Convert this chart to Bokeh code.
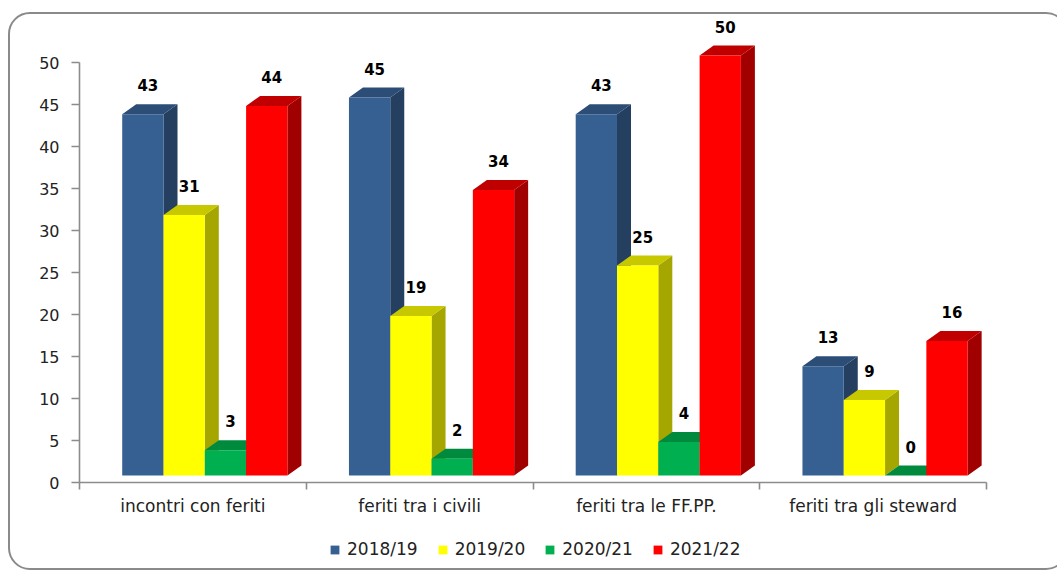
from bokeh.plotting import figure
from bokeh.layouts import column
from bokeh.models import (ColumnDataSource, Range1d, FixedTicker, Legend,
                          LegendItem, InlineStyleSheet)
from bokeh.core.properties import value
from bokeh.embed import file_html
from bokeh.resources import INLINE

# ---- data -------------------------------------------------------------
categories = ["incontri con feriti", "feriti tra i civili",
              "feriti tra le FF.PP.", "feriti tra gli steward"]
seasons = ["2018/19", "2019/20", "2020/21", "2021/22"]
v_2018_19 = [43, 45, 43, 13]
v_2019_20 = [31, 19, 25, 9]
v_2020_21 = [3, 2, 4, 0]
v_2021_22 = [44, 34, 50, 16]
y_ticks = [0, 5, 10, 15, 20, 25, 30, 35, 40, 45, 50]

series = [v_2018_19, v_2019_20, v_2020_21, v_2021_22]

# ---- styling ------------------------------------------------------------
front_colors = ["#376092", "#FFFF00", "#00B050", "#FF0000"]
top_colors = ["#2C4D76", "#C8C800", "#008A3E", "#C00000"]
side_colors = ["#243F60", "#A6A600", "#007A33", "#A00000"]
AXIS_GREY = "#8C8C8C"
TEXT = "#222222"

W = 1057
H_CHART, H_LEGEND = 530, 41
LEFT, RIGHT, TOP, BOTTOM = 79, 71, 14, 48
PX_X = (W - LEFT - RIGHT) / 4.0      # pixels per category
PX_Y = 8.4                            # pixels per unit of value

# pseudo-3D column geometry, in data units
GROUP_PAD = 42.7 / PX_X
BAR_W = 41.3 / PX_X
DEPTH_X = 14.0 / PX_X
DEPTH_Y = 10.0 / PX_Y
BASE = 7.0 / PX_Y

y_top = (H_CHART - TOP - BOTTOM) / PX_Y

p = figure(width=W, height=H_CHART, output_backend="svg", toolbar_location=None,
           x_range=Range1d(0, 4), y_range=Range1d(0, y_top),
           min_border_left=LEFT, min_border_right=RIGHT,
           min_border_top=TOP, min_border_bottom=BOTTOM,
           background_fill_color="white", border_fill_color="white")
p.outline_line_color = None
p.xgrid.visible = False
p.ygrid.visible = False

for j, vals in enumerate(series):
    x0 = [i + GROUP_PAD + j * BAR_W for i in range(len(vals))]
    x1 = [a + BAR_W for a in x0]
    top = [BASE + v for v in vals]

    side_xs = [[b, b + DEPTH_X, b + DEPTH_X, b] for b in x1]
    side_ys = [[BASE, BASE + DEPTH_Y, t + DEPTH_Y, t] for t in top]
    p.patches(side_xs, side_ys, fill_color=side_colors[j], line_color=None)

    top_xs = [[a, b, b + DEPTH_X, a + DEPTH_X] for a, b in zip(x0, x1)]
    top_ys = [[t, t, t + DEPTH_Y, t + DEPTH_Y] for t in top]
    p.patches(top_xs, top_ys, fill_color=top_colors[j], line_color=None)

    src = ColumnDataSource(dict(left=x0, right=x1, bottom=[BASE] * len(vals),
                                top=top, value=vals,
                                label=[str(v) for v in vals],
                                xc=[(a + b) / 2 for a, b in zip(x0, x1)]))
    p.quad(left="left", right="right", bottom="bottom", top="top",
           source=src, fill_color=front_colors[j], line_color=None)

    p.text(x="xc", y="top", text="label", source=src,
           text_font=value("DejaVu Sans"), text_font_style="bold",
           text_font_size="15px", text_color="black",
           text_align="center", text_baseline="middle",
           x_offset=5, y_offset=-29)

# ---- axes ---------------------------------------------------------------
ya = p.yaxis[0]
ya.ticker = FixedTicker(ticks=y_ticks)
ya.bounds = (0, 50)
ya.axis_line_color = AXIS_GREY
ya.axis_line_width = 1.6
ya.major_tick_line_color = AXIS_GREY
ya.major_tick_line_width = 1.6
ya.major_tick_out = 8
ya.major_tick_in = 0
ya.minor_tick_line_color = None
ya.major_label_standoff = 12
ya.major_label_text_font = "DejaVu Sans"
ya.major_label_text_font_size = "16px"
ya.major_label_text_color = TEXT

xa = p.xaxis[0]
xa.ticker = FixedTicker(ticks=[i + 0.5 for i in range(len(categories))],
                        minor_ticks=list(range(len(categories) + 1)))
xa.major_label_overrides = {i + 0.5: c for i, c in enumerate(categories)}
xa.axis_line_color = AXIS_GREY
xa.axis_line_width = 1.6
xa.major_tick_line_color = None
xa.major_tick_out = 0
xa.major_tick_in = 0
xa.minor_tick_line_color = AXIS_GREY
xa.minor_tick_line_width = 1.6
xa.minor_tick_out = 7
xa.minor_tick_in = 0
xa.major_label_standoff = 6
xa.major_label_text_font = "DejaVu Sans"
xa.major_label_text_font_size = "17px"
xa.major_label_text_color = TEXT

# ---- legend strip under the chart -------------------------------------------
leg = figure(width=W, height=H_LEGEND, output_backend="svg",
             toolbar_location=None, x_axis_location=None, y_axis_location=None,
             x_range=Range1d(0, 1), y_range=Range1d(0, 1),
             min_border=0, background_fill_color="white",
             border_fill_color="white")
leg.outline_line_color = None
leg.xgrid.visible = False
leg.ygrid.visible = False

# zero-area quads that only lend their colour to the legend swatches
swatches = [leg.quad(left=[0], right=[0], bottom=[0], top=[0],
                     fill_color=c, line_color=None) for c in front_colors]
legend = Legend(items=[LegendItem(label=s, renderers=[r])
                       for s, r in zip(seasons, swatches)],
                orientation="horizontal", location=(250, 12),
                glyph_width=11, glyph_height=11, label_standoff=7,
                spacing=19, padding=0, margin=0,
                border_line_color=None, background_fill_alpha=0,
                label_text_font="DejaVu Sans", label_text_font_size="17px",
                label_text_color=TEXT)
leg.add_layout(legend)

# rounded frame drawn around the whole chart
frame_css = InlineStyleSheet(css="""
:host { position: relative; overflow: hidden; }
:host::after {
  content: ""; position: absolute; left: 8px; top: 12px;
  width: 1060px; height: 558px; box-sizing: border-box;
  border: 2px solid #8a8a8a; border-radius: 22px; pointer-events: none;
}
""")

page = column(p, leg, spacing=0, stylesheets=[frame_css])

open("out.html", "w").write(file_html(page, INLINE))
